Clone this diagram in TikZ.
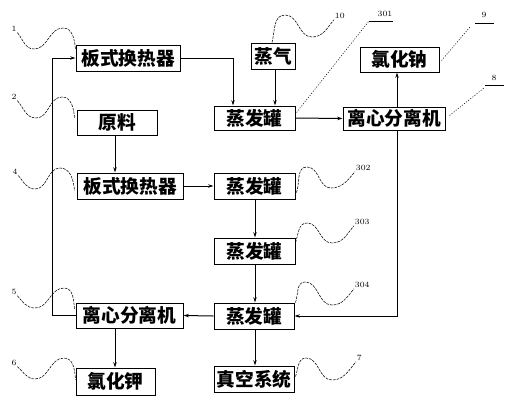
\documentclass[tikz,border=0pt]{standalone}
\usepackage{fontspec}
\newfontfamily\cjk{Noto Sans CJK SC}
\usetikzlibrary{arrows.meta,calc}
\tikzset{
  box/.style={draw, line width=0.75pt, inner sep=0pt, font=\cjk\bfseries\fontsize{14}{14}\selectfont},
  arr/.style={line width=0.75pt, -{Stealth[length=4pt,width=2.6pt]}},
  lead/.style={line width=0.4pt, dash pattern=on 2pt off 0.8pt},
  dotl/.style={line width=0.4pt, dash pattern=on 0.8pt off 1.2pt},
  ul/.style={line width=0.5pt},
  num/.style={inner sep=0.5pt, font=\fontsize{6}{6}\selectfont}
}
\begin{document}
\begin{tikzpicture}[x=0.75pt,y=-0.75pt]
\useasboundingbox (0,0) rectangle (509,400);
% boxes
\node[box, minimum width=78pt, minimum height=19.5pt] (hx1) at (128,58) {板式换热器};
\node[box, minimum width=33pt, minimum height=19.5pt] (steam) at (273,56) {蒸气};
\node[box, minimum width=60.75pt, minimum height=18pt] (ev1) at (254.5,118) {蒸发罐};
\node[box, minimum width=76.5pt, minimum height=17.25pt] (cen1) at (394,118.5) {离心分离机};
\node[box, minimum width=59.25pt, minimum height=18.75pt] (nacl) at (399.5,59.5) {氯化钠};
\node[box, minimum width=60pt, minimum height=18.75pt] (raw) at (117,122.5) {原料};
\node[box, minimum width=79.5pt, minimum height=19.5pt] (hx2) at (130,186) {板式换热器};
\node[box, minimum width=60.75pt, minimum height=19.5pt] (ev2) at (254.5,186) {蒸发罐};
\node[box, minimum width=60.75pt, minimum height=19.5pt] (ev3) at (254.5,251) {蒸发罐};
\node[box, minimum width=60pt, minimum height=19.5pt] (ev4) at (254,316) {蒸发罐};
\node[box, minimum width=60pt, minimum height=19.5pt] (vac) at (254,379) {真空系统};
\node[box, minimum width=80.25pt, minimum height=18.75pt] (cen2) at (129.5,315.5) {离心分离机};
\node[box, minimum width=59.25pt, minimum height=20.25pt] (kcl) at (115.5,381.5) {氯化钾};
% connectors
\draw[arr] (hx1.east) -| (233,0 |- ev1.north);
\draw[arr] (steam.south -| 275,0) -- (275,0 |- ev1.north);
\draw[arr] (ev1.east) -- (cen1.west);
\draw[arr] (397,0 |- cen1.north) -- (397,0 |- nacl.south);
\draw[arr] (397,0 |- cen1.south) |- (ev4.east);
\draw[arr] (raw.south -| 115,0) -- (115,0 |- hx2.north);
\draw[arr] (hx2.east) -- (ev2.west);
\draw[arr] (255,0 |- ev2.south) -- (255,0 |- ev3.north);
\draw[arr] (255,0 |- ev3.south) -- (255,0 |- ev4.north);
\draw[arr] (255,0 |- ev4.south) -- (255,0 |- vac.north);
\draw[arr] (ev4.west) -- (cen2.east);
\draw[arr] (cen2.west) -- (52,0 |- cen2.west) |- (hx1.west);
\draw[arr] (115,0 |- cen2.south) -- (115,0 |- kcl.north);
% left labels
\node[num] (l1) at (14,29) {1};
\draw[lead] (l1.south east) to[out=-50,in=180] (34,49) to[out=0,in=180] (63,28) to[out=0,in=95] ($(hx1.north west)+(0,5)$);
\node[num] (l2) at (14,97) {2};
\draw[lead] (l2.south east) to[out=-50,in=180] (36,118) to[out=0,in=180] (62,97) to[out=0,in=95] ($(raw.north west)+(-2,8)$);
\node[num] (l4) at (15,172) {4};
\draw[lead] (l4.south east) to[out=-50,in=180] (35,189) to[out=0,in=180] (60,168) to[out=0,in=95] ($(hx2.north west)+(-2,18)$);
\node[num] (l5) at (14,292) {5};
\draw[lead] (l5.south east) to[out=-50,in=180] (35,308) to[out=0,in=180] (64,288) to[out=0,in=95] ($(cen2.north west)+(-1,7)$);
\node[num] (l6) at (14,363) {6};
\draw[lead] (l6.south east) to[out=-40,in=180] (35,379) to[out=0,in=180] (64,358) to[out=0,in=95] ($(kcl.north west)+(0,12)$);
% right wavy labels
\node[num, anchor=west] (l10) at (334,16) {10};
\draw[lead] ($(steam.north)+(-1,0)$) to[out=75,in=180] (285,15) to[out=0,in=180] (312,37) to[out=0,in=230] (l10.south west);
\node[num, anchor=west] (l302) at (355,168) {302};
\draw[lead] ($(ev2.north east)+(1,20)$) to[out=70,in=180] (307,167) to[out=0,in=180] (331,188) to[out=0,in=230] (l302.south west);
\node[num, anchor=west] (l303) at (354,222) {303};
\draw[lead] ($(ev3.north east)+(0,5)$) to[out=70,in=180] (307,223) to[out=0,in=180] (332,243) to[out=0,in=230] (l303.south west);
\node[num, anchor=west] (l304) at (354,285) {304};
\draw[lead] ($(ev4.north east)+(1,0)$) to[out=70,in=180] (305,282) to[out=0,in=180] (332,305) to[out=0,in=230] (l304.south west);
\node[num, anchor=west] (l7) at (356,358) {7};
\draw[lead] ($(vac.north east)+(1,11)$) to[out=70,in=180] (306,358) to[out=0,in=180] (332,380) to[out=0,in=230] (l7.south west);
% straight leaders
\node[num] (l301) at (385,14) {301};
\coordinate (u301a) at (369,21);
\coordinate (u301b) at (393,21);
\draw[dotl] ($(ev1.north east)+(1,7)$) -- (u301a);
\draw[ul] (u301a) -- (u301b);
\node[num] (l9) at (484,15) {9};
\coordinate (u9a) at (475,23);
\coordinate (u9b) at (494,23);
\draw[dotl] ($(nacl.east)+(2,1)$) -- (470,27);
\draw[ul] (u9a) -- (u9b);
\node[num] (l8) at (494,78) {8};
\coordinate (u8a) at (485,85);
\coordinate (u8b) at (504,85);
\draw[dotl] ($(cen1.east)+(4,-3)$) -- (484,88);
\draw[ul] (u8a) -- (u8b);
\end{tikzpicture}
\end{document}
